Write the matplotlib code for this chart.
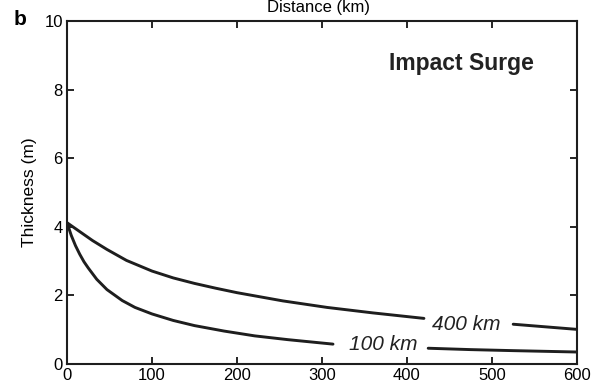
import numpy as np
import matplotlib
matplotlib.use('Agg')
import matplotlib.pyplot as plt

plt.rcParams['font.family'] = ['Liberation Sans', 'DejaVu Sans']

# distance (km) and deposit thickness (m) for the two source radii
# NaN marks where the line breaks for its label
dist_400 = [0, 15, 30, 47, 70, 100, 125, 150, 175, 200, 254, 306, 360, 420, 470, 525, 560, 600]
thick_400 = [4.12, 3.86, 3.6, 3.34, 3.02, 2.71, 2.51, 2.35, 2.21, 2.08, 1.84, 1.65, 1.49, 1.33,
             np.nan, 1.16, 1.09, 1.01]

dist_100 = [0, 5, 10, 15, 20, 25, 35, 47, 65, 80, 100, 125, 150, 185, 221, 260, 313, 370,
            425, 475, 525, 600]
thick_100 = [4.12, 3.75, 3.45, 3.2, 2.98, 2.8, 2.47, 2.17, 1.85, 1.65, 1.46, 1.27, 1.12, 0.96,
             0.82, 0.71, 0.58, np.nan, 0.46, 0.42, 0.39, 0.35]

xticks = [0, 100, 200, 300, 400, 500, 600]
yticks = [0, 2, 4, 6, 8, 10]

fig = plt.figure(figsize=(5.95, 3.85), dpi=100)
ax = fig.add_axes([0.1126, 0.0545, 0.857, 0.891])

ax.plot(dist_400, thick_400, color='#1e1e1e', lw=2.1, solid_capstyle='round')
ax.plot(dist_100, thick_100, color='#1e1e1e', lw=2.1, solid_capstyle='round')

ax.text(470, 1.16, '400 km', style='italic', fontsize=15, color='#222222', ha='center', va='center')
ax.text(372, 0.58, '100 km', style='italic', fontsize=15, color='#222222', ha='center', va='center')
ax.text(464, 8.75, 'Impact Surge', fontweight='bold', fontsize=16.5, color='#222222',
        ha='center', va='center')

ax.set_xlim(0, 600)
ax.set_ylim(0, 10)
ax.set_xticks(xticks)
ax.set_yticks(yticks)
ax.tick_params(direction='in', length=5, width=1.2, top=True, right=True, labelsize=12, pad=3)
for s in ax.spines.values():
    s.set_linewidth(1.5)
    s.set_color('#1e1e1e')

ax.set_ylabel('Thickness (m)', fontsize=12.5, labelpad=5)
fig.text(0.535, 1.0, 'Distance (km)', fontsize=12, ha='center', va='top')
fig.text(0.033, 0.95, 'b', fontsize=15, fontweight='bold', ha='center', va='center')

fig.savefig('out.png', dpi=100)
